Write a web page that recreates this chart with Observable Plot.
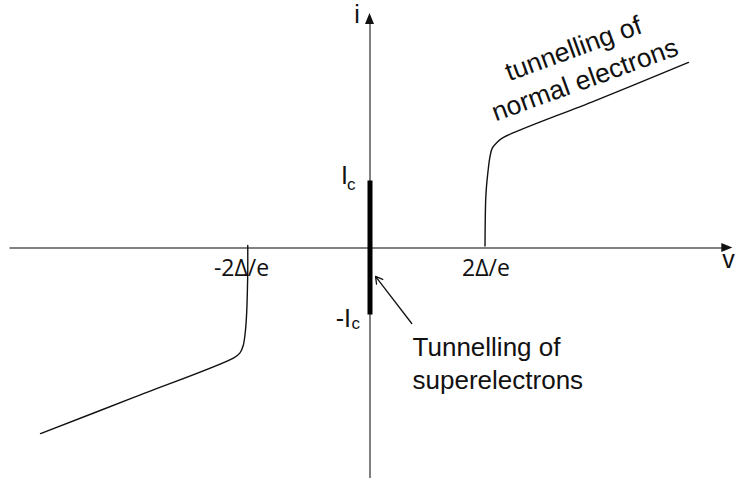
<!DOCTYPE html>
<html>
<head>
<meta charset="utf-8">
<script src="https://cdn.jsdelivr.net/npm/d3@7"></script>
<script src="https://cdn.jsdelivr.net/npm/@observablehq/plot@0.6"></script>
<style>
  html, body { margin: 0; padding: 0; background: #fff; }
  #chart { width: 739px; height: 480px; overflow: hidden; }
</style>
</head>
<body>
<div id="chart"></div>
<script>
// I–V characteristic of a superconductor–insulator–superconductor junction.
// Voltage in units of 2Δ/e, current in units of the critical current Ic.

// Quasiparticle (normal electron) branch above the gap, V > 0
const posV = [1.0, 1.002, 1.006, 1.013, 1.024, 1.042, 1.063, 1.106, 1.161, 1.96, 2.77];
const posI = [0.03, 0.40, 0.72, 0.92, 1.11, 1.35, 1.49, 1.58, 1.65, 2.20, 2.77];

// Quasiparticle branch below the gap, V < 0
const negV = [-1.063, -1.063, -1.066, -1.072, -1.083, -1.103, -1.132, -1.184, -2.054, -2.865];
const negI = [0.037, -0.34, -0.62, -0.95, -1.23, -1.46, -1.57, -1.64, -2.23, -2.77];

// Josephson (superelectron) current at V = 0
const superI = [-1, 1];

// Axis extents
const vAxis = [-3.13, 3.155];
const iAxis = [-3.44, 3.50];

// Tick labels on the voltage axis
const tickV = [-1.065, 1.0];
const tickLabels = ["-2Δ/e", "2Δ/e"];

// Current labels (main part and subscript)
const currentI = [1, -1];
const currentLabels = ["I", "-I"];
const currentSub = "c";

// Annotations
const noteSuper = "Tunnelling of\nsuperelectrons";
const noteNormal = "tunnelling of\nnormal electrons";

const pos = posV.map((v, k) => ({v, i: posI[k]}));
const neg = negV.map((v, k) => ({v, i: negI[k]}));

// Filled arrowheads at the ends of the two axes
const heads = [
  {v: vAxis[1], i: 0, dx: 1, dy: 0},
  {v: 0, i: iAxis[1], dx: 0, dy: -1}
];
function axisHeads(index, scales) {
  const g = d3.create("svg:g");
  for (const h of heads) {
    const tx = scales.x(h.v), ty = scales.y(h.i);
    const len = 11, half = 4.5;
    const bx = tx - h.dx * len, by = ty - h.dy * len;
    const px = -h.dy, py = h.dx;
    g.append("path")
      .attr("d", `M${tx},${ty}L${bx + px * half},${by + py * half}L${bx - px * half},${by - py * half}Z`)
      .attr("fill", "#111");
  }
  return g.node();
}

const fontMain = "'Liberation Sans', Arial, sans-serif";
const fontTick = "'Open Sans', 'DejaVu Sans', sans-serif";

const chart = Plot.plot({
  width: 739,
  height: 480,
  margin: 0,
  x: {domain: [-369.5 / 115, 369.5 / 115], axis: null},
  y: {domain: [-(480 - 247.5) / 67, 247.5 / 67], axis: null},
  style: {fontFamily: fontMain, background: "#fff"},
  marks: [
    // axes
    Plot.ruleY([0], {x1: vAxis[0], x2: vAxis[1] - 0.06, stroke: "#808080", strokeWidth: 2}),
    Plot.ruleX([0], {y1: iAxis[0], y2: iAxis[1] - 0.1, stroke: "#808080", strokeWidth: 2}),
    axisHeads,
    Plot.text(["v"], {x: vAxis[1], y: 0, dx: 2, dy: 12, textAnchor: "end", fontSize: 25, fill: "#111"}),
    Plot.text(["i"], {x: 0, y: iAxis[1], dx: -13, dy: 1, fontSize: 25, fill: "#111"}),

    // supercurrent
    Plot.ruleX([0], {y1: superI[0], y2: superI[1], stroke: "#000", strokeWidth: 5}),

    // quasiparticle branches
    Plot.line(pos, {x: "v", y: "i", curve: "catmull-rom", stroke: "#111", strokeWidth: 1.4}),
    Plot.line(neg, {x: "v", y: "i", curve: "catmull-rom", stroke: "#111", strokeWidth: 1.4}),

    // gap-voltage labels
    Plot.text([tickLabels[0]], {x: tickV[0], y: 0, dx: -6, dy: 21, fontFamily: fontTick, fontSize: 23, fill: "#111"}),
    Plot.text([tickLabels[1]], {x: tickV[1], y: 0, dx: 1, dy: 21, fontFamily: fontTick, fontSize: 23, fill: "#111"}),

    // ±Ic labels
    Plot.text([currentLabels[0]], {x: 0, y: currentI[0], dx: -22, dy: -5.5, textAnchor: "end", fontSize: 25, fill: "#111"}),
    Plot.text([currentSub], {x: 0, y: currentI[0], dx: -23, dy: 3.5, textAnchor: "start", fontSize: 17, fill: "#111"}),
    Plot.text([currentLabels[1]], {x: 0, y: currentI[1], dx: -19, dy: 3.5, textAnchor: "end", fontSize: 25, fill: "#111"}),
    Plot.text([currentSub], {x: 0, y: currentI[1], dx: -18.5, dy: 8.5, textAnchor: "start", fontSize: 17, fill: "#111"}),

    // annotation for the supercurrent
    Plot.arrow([{x1: 0.363, y1: -1.127, x2: 0.048, y2: -0.425}],
      {x1: "x1", y1: "y1", x2: "x2", y2: "y2", stroke: "#111", strokeWidth: 1.3, headLength: 9}),
    Plot.text([noteSuper], {x: 0.37, y: -1.70, textAnchor: "start", fontSize: 26, lineHeight: 1.28, fill: "#111"}),

    // annotation for the normal-electron branch
    Plot.text([noteNormal], {x: 1.813, y: 2.77, rotate: -20, fontSize: 26.5, lineHeight: 1.25, fill: "#111"})
  ]
});

document.getElementById("chart").append(chart);
</script>
</body>
</html>
